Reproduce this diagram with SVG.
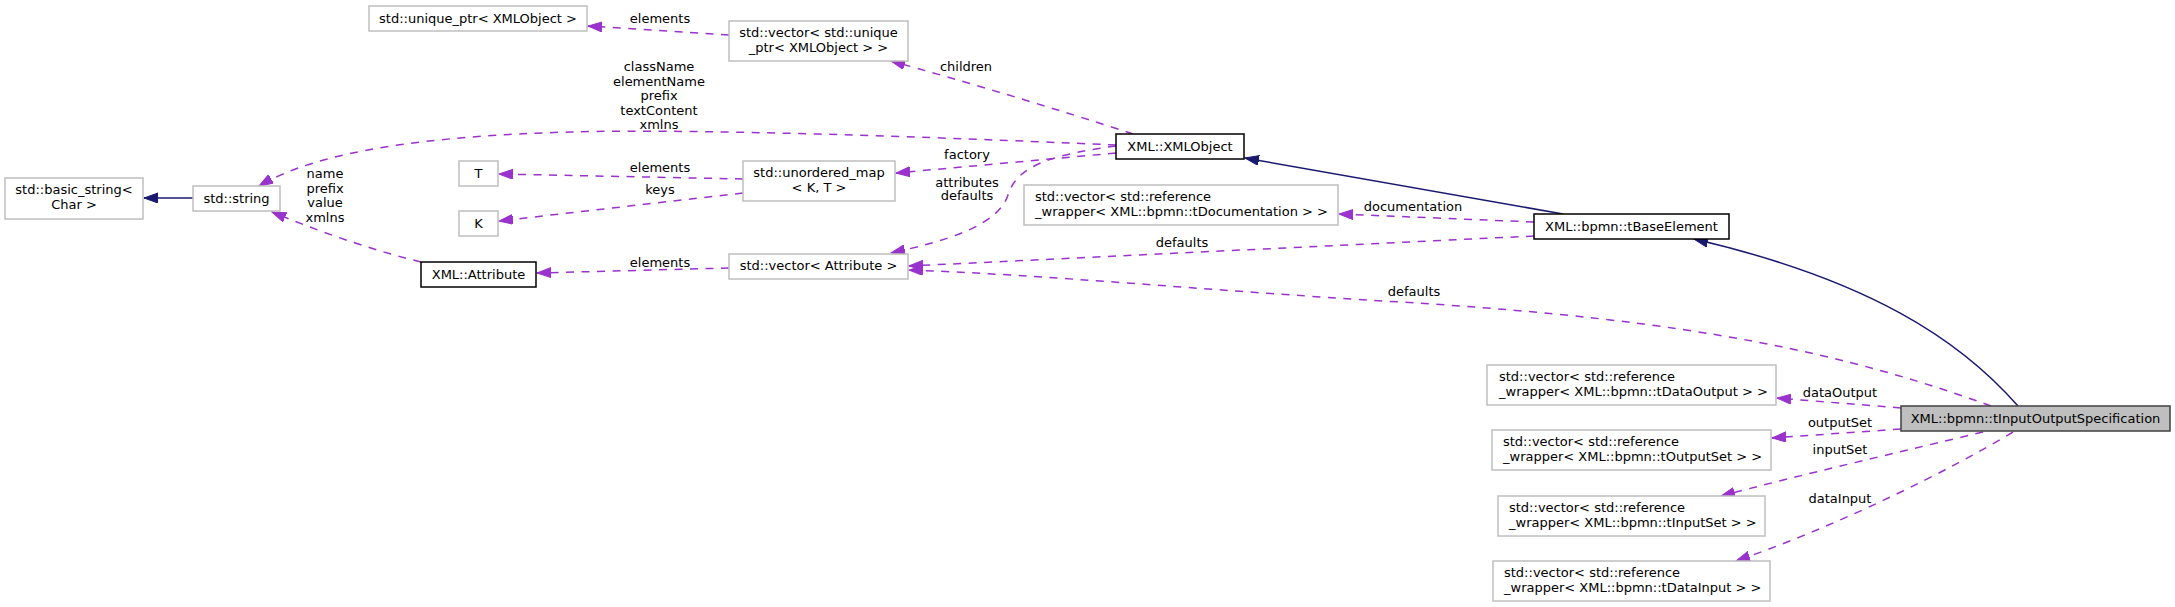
<svg xmlns="http://www.w3.org/2000/svg" width="2175" height="607" viewBox="0 0 2175 607">
<style>
text{font-family:"DejaVu Sans","Liberation Sans",sans-serif;font-size:13px;fill:#000}
.c{text-anchor:middle}
.ext{fill:#fff;stroke:#bfbfbf;stroke-width:1.5}
.doc{fill:#fff;stroke:#000;stroke-width:1.5}
.cur{fill:#bfbfbf;stroke:#404040;stroke-width:1.5}
.d{fill:none;stroke:#9a32cd;stroke-width:1.5;stroke-dasharray:8,7.5;marker-end:url(#ap)}
.s{fill:none;stroke:#191970;stroke-width:1.5;marker-end:url(#an)}
</style>
<defs>
<marker id="ap" markerUnits="userSpaceOnUse" markerWidth="16" markerHeight="12" refX="14" refY="5" orient="auto"><path d="M0,0 L14,5 L0,10 z" fill="#9a32cd" stroke="#9a32cd"/></marker>
<marker id="an" markerUnits="userSpaceOnUse" markerWidth="16" markerHeight="12" refX="14" refY="5" orient="auto"><path d="M0,0 L14,5 L0,10 z" fill="#191970" stroke="#191970"/></marker>
</defs>
<rect width="2175" height="607" fill="#fff"/>
<g id="connectors">
<path class="d" d="M729,35 L588,26"/>
<path class="d" d="M1133,134 C1060,110 960,80 891,61"/>
<path class="d" d="M1116,145 C1000,140 720,128 570,132 C430,136 320,150 259,186"/>
<path class="d" d="M421,262 C380,252 330,236 272,212"/>
<path class="s" d="M193,198 L144,198"/>
<path class="d" d="M743,179 L499,174"/>
<path class="d" d="M743,193 L499,221"/>
<path class="d" d="M729,268 L537,273"/>
<path class="d" d="M1116,153 L896,173"/>
<path class="d" d="M1116,146 C1040,156 1016,170 1008,195 C998,225 950,240 891,253"/>
<path class="s" d="M1563,214 L1245,158"/>
<path class="d" d="M1534,222 L1339,214"/>
<path class="d" d="M1534,236 L909,266"/>
<path class="d" d="M1991,406 C1850,355 1700,320 1400,302 C1200,290 1050,275 909,270"/>
<path class="s" d="M2018,406 C1960,340 1870,280 1694,239"/>
<path class="d" d="M1901,408 L1777,398"/>
<path class="d" d="M1901,429 L1772,438"/>
<path class="d" d="M1983,432 C1900,452 1800,475 1721,496"/>
<path class="d" d="M2013,432 C1950,470 1840,525 1736,561"/>
</g>
<g id="edge-labels">
<text class="c" x="660" y="23">elements</text>
<text class="c" x="966" y="71">children</text>
<text class="c" x="659" y="71">className</text>
<text class="c" x="659" y="85.5">elementName</text>
<text class="c" x="659" y="100">prefix</text>
<text class="c" x="659" y="114.5">textContent</text>
<text class="c" x="659" y="129">xmlns</text>
<text class="c" x="325" y="178">name</text>
<text class="c" x="325" y="193">prefix</text>
<text class="c" x="325" y="207">value</text>
<text class="c" x="325" y="222">xmlns</text>
<text class="c" x="660" y="172">elements</text>
<text class="c" x="660" y="194">keys</text>
<text class="c" x="660" y="267">elements</text>
<text class="c" x="967" y="159">factory</text>
<text class="c" x="967" y="187">attributes</text>
<text class="c" x="967" y="200">defaults</text>
<text class="c" x="1413" y="211">documentation</text>
<text class="c" x="1182" y="247">defaults</text>
<text class="c" x="1414" y="296">defaults</text>
<text class="c" x="1840" y="397">dataOutput</text>
<text class="c" x="1840" y="427">outputSet</text>
<text class="c" x="1840" y="454">inputSet</text>
<text class="c" x="1840" y="503">dataInput</text>
</g>
<g id="n-unique_ptr"><rect class="ext" x="369" y="6" width="218" height="25"/><text class="c" x="478" y="22.5">std::unique_ptr&lt; XMLObject &gt;</text></g>
<g id="n-vector-unique_ptr"><rect class="ext" x="729" y="21" width="179" height="40"/><text class="c" x="818.5" y="37">std::vector&lt; std::unique</text><text class="c" x="818.5" y="52">_ptr&lt; XMLObject &gt; &gt;</text></g>
<g id="n-basic_string"><rect class="ext" x="5" y="178" width="138" height="41"/><text class="c" x="74" y="194">std::basic_string&lt;</text><text class="c" x="74" y="209">Char &gt;</text></g>
<g id="n-string"><rect class="ext" x="193" y="186" width="87" height="25"/><text class="c" x="236.5" y="202.5">std::string</text></g>
<g id="n-T"><rect class="ext" x="459" y="161" width="39" height="25"/><text class="c" x="478.5" y="177.5">T</text></g>
<g id="n-K"><rect class="ext" x="459" y="211" width="39" height="25"/><text class="c" x="478.5" y="227.5">K</text></g>
<g id="n-Attribute"><rect class="doc" x="421" y="262" width="115" height="25"/><text class="c" x="478.5" y="278.5">XML::Attribute</text></g>
<g id="n-unordered_map"><rect class="ext" x="743" y="161" width="152" height="40"/><text class="c" x="819" y="177">std::unordered_map</text><text class="c" x="819" y="192">&lt; K, T &gt;</text></g>
<g id="n-XMLObject"><rect class="doc" x="1116" y="134" width="128" height="25"/><text class="c" x="1180" y="150.5">XML::XMLObject</text></g>
<g id="n-tDocumentation"><rect class="ext" x="1024" y="185" width="314" height="40"/><text x="1035" y="201">std::vector&lt; std::reference</text><text x="1035" y="216">_wrapper&lt; XML::bpmn::tDocumentation &gt; &gt;</text></g>
<g id="n-vector-Attribute"><rect class="ext" x="729" y="254" width="179" height="25"/><text class="c" x="818.5" y="270">std::vector&lt; Attribute &gt;</text></g>
<g id="n-tBaseElement"><rect class="doc" x="1534" y="214" width="195" height="25"/><text class="c" x="1631.5" y="230.5">XML::bpmn::tBaseElement</text></g>
<g id="n-tInputOutputSpecification"><rect class="cur" x="1901" y="406" width="269" height="25"/><text class="c" x="2035.5" y="422.5">XML::bpmn::tInputOutputSpecification</text></g>
<g id="n-tDataOutput"><rect class="ext" x="1487" y="365" width="289" height="40"/><text x="1499" y="381">std::vector&lt; std::reference</text><text x="1499" y="396">_wrapper&lt; XML::bpmn::tDataOutput &gt; &gt;</text></g>
<g id="n-tOutputSet"><rect class="ext" x="1492" y="430" width="279" height="40"/><text x="1503" y="446">std::vector&lt; std::reference</text><text x="1503" y="461">_wrapper&lt; XML::bpmn::tOutputSet &gt; &gt;</text></g>
<g id="n-tInputSet"><rect class="ext" x="1498" y="496" width="267" height="40"/><text x="1509" y="512">std::vector&lt; std::reference</text><text x="1509" y="527">_wrapper&lt; XML::bpmn::tInputSet &gt; &gt;</text></g>
<g id="n-tDataInput"><rect class="ext" x="1493" y="561" width="277" height="40"/><text x="1504" y="577">std::vector&lt; std::reference</text><text x="1504" y="592">_wrapper&lt; XML::bpmn::tDataInput &gt; &gt;</text></g>
</svg>
